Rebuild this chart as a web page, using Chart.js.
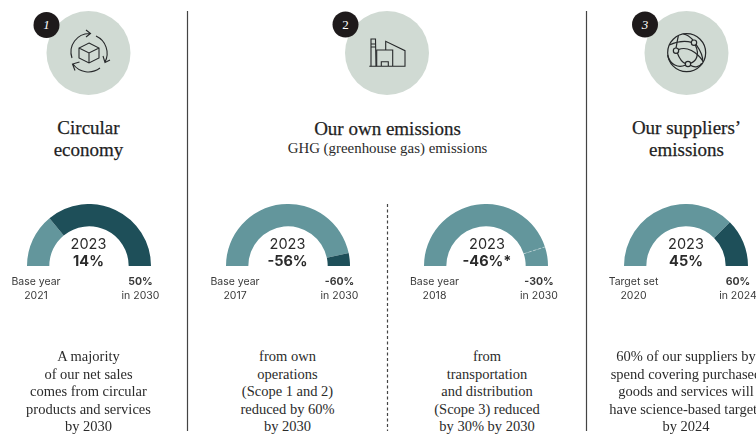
<!DOCTYPE html>
<html>
<head>
<meta charset="utf-8">
<title>Climate targets</title>
<script src="https://cdn.jsdelivr.net/npm/chart.js@4"></script>
<style>
  html, body { margin: 0; padding: 0; background: #fff; }
  body { position: relative; width: 756px; height: 434px; overflow: hidden; }
  canvas { position: absolute; }
  .t { position: absolute; transform: translateX(-50%); text-align: center; white-space: nowrap; color: #2b2b2b; }
  .serif { font-family: "Liberation Serif", serif; }
  .title { font-size: 19px; line-height: 22px; font-weight: 400; color: #1f1f1f; -webkit-text-stroke: 0.25px #1f1f1f; }
  .sub { font-size: 14.9px; line-height: 17px; }
  .body { font-size: 14.5px; line-height: 17.5px; }
  .gauge-label { font-family: Inter, sans-serif; font-size: 10.5px; line-height: 13.5px; color: #3a3a3a; }
  .gauge-label b { font-weight: 700; }
  .gauge-mid { font-family: Inter, sans-serif; font-size: 14.5px; line-height: 17px; color: #2b2b2b; }
  .gauge-mid b { font-weight: 700; }
  svg { position: absolute; left: 0; top: 0; }
</style>
</head>
<body>
<svg width="756" height="434" fill="none" stroke="#26282a" stroke-width="1.1">
  <circle cx="88.5" cy="53" r="42" fill="#d0dad3" stroke="none"/>
  <circle cx="387" cy="53" r="42" fill="#d0dad3" stroke="none"/>
  <circle cx="686.5" cy="53" r="42" fill="#d0dad3" stroke="none"/>
  <circle cx="46.5" cy="25" r="13" fill="#1e1a1b" stroke="none"/>
  <circle cx="345.5" cy="24.5" r="13" fill="#1e1a1b" stroke="none"/>
  <circle cx="645" cy="24.5" r="13" fill="#1e1a1b" stroke="none"/>

  <!-- separators -->
  <line x1="187.5" y1="11" x2="187.5" y2="431" stroke="#444" stroke-width="1.2"/>
  <line x1="586.5" y1="11" x2="586.5" y2="431" stroke="#444" stroke-width="1.2"/>
  <line x1="387.5" y1="204" x2="387.5" y2="431" stroke="#444" stroke-width="1.2" stroke-dasharray="3 2.5"/>

  <!-- cube with circular arrows -->
  <path d="M89 43 L99 48 V58 L89 63 L79 58 V48 Z M79 48 L89 53 L99 48 M89 53 V63"/>
  <path d="M72 58 A18.5 18.5 0 0 1 90 33.5 M86 30 L90.500 33.500 L86 37"/>
  <path d="M96 36 A19 19 0 0 1 105 62 M103 56 L105 62.500 L110 60"/>
  <path d="M100 68 A19 19 0 0 1 73 64 M79.500 62 L72.500 64 L75 70.500"/>

  <!-- factory -->
  <path d="M369.300 66.300 H405 V50.700 L385.700 41.300 V50 M376.700 66.300 V50 H392.700 V66.300 M381.300 66.300 V61.700 H388.300 V66.300"/>
  <path d="M371 66.300 L371 39 H375.500 L376 66.300 M371 44 H375.500 M371 47 H375.500"/>

  <!-- supplier network -->
  <g transform="translate(620 0) scale(0.33333)" stroke-width="3.6">
    <circle cx="200" cy="158" r="57"/>
    <circle cx="222" cy="128" r="8"/>
    <circle cx="168" cy="152" r="8"/>
    <circle cx="204" cy="192" r="8"/>
    <path d="M148 135 C170 125 195 122 215 127"/>
    <path d="M175 108 C172 120 170 135 168 144"/>
    <path d="M228 133 C240 150 250 170 248 185"/>
    <path d="M175 149 C200 138 230 155 250 185"/>
    <path d="M172 159 C178 175 188 188 197 191"/>
    <path d="M211 190 C228 185 240 165 226 135"/>
    <path d="M143 165 C150 195 175 205 197 195"/>
    <path d="M211 196 C225 205 240 200 245 190"/>
    <path d="M219 120 C212 112 205 105 190 102"/>
  </g>
</svg>

<script>
// Gauges: achieved share and what is left of the arc, per target
const years = ['2023', '2023', '2023', '2023'];
const achieved = [14, 56, 46, 45];
const remaining = [36, 4, 5.1, 15];
const centerLabels = ['14%', '-56%', '-46%*', '45%'];
const startLabels = [['Base year', '2021'], ['Base year', '2017'], ['Base year', '2018'], ['Target set', '2020']];
const targetLabels = [['50%', 'in 2030'], ['-60%', 'in 2030'], ['-30%', 'in 2030'], ['60%', 'in 2024']];
const badges = ['1', '2', '3'];

const titles = [['Circular', 'economy'], ['Our own emissions'], ['Our suppliers’', 'emissions']];
const subtitle = 'GHG (greenhouse gas) emissions';
const descriptions = [
  ['A majority', 'of our net sales', 'comes from circular', 'products and services', 'by 2030'],
  ['from own', 'operations', '(Scope 1 and 2)', 'reduced by 60%', 'by 2030'],
  ['from', 'transportation', 'and distribution', '(Scope 3) reduced', 'by 30% by 2030'],
  ['60% of our suppliers by', 'spend covering purchased', 'goods and services will', 'have science-based targets', 'by 2024']
];

const LIGHT = '#63969c';
const DARK = '#1e4f59';
const remainingColors = [DARK, DARK, LIGHT, DARK];
const dashedSplit = [false, false, true, false];

const gaugeCenters = [88.5, 287.5, 486, 686];
const textCenters = [88.5, 287.5, 487, 686];
const badgeCenters = [46.5, 345.5, 645];
const badgeStyles = ['italic', 'normal', 'italic'];
const titleCenters = [88.5, 387.5, 686.5];
const titleTops = [117, 118, 117];
const RADIUS = 62;
const BASELINE = 266;

function addText(cls, html, x, y) {
  const el = document.createElement('div');
  el.className = 't ' + cls;
  el.innerHTML = html;
  el.style.left = x + 'px';
  el.style.top = y + 'px';
  document.body.appendChild(el);
  return el;
}

// faint dashed tick on the boundary between the two segments
const splitLine = {
  id: 'splitLine',
  afterDatasetsDraw(chart, args, opts) {
    if (!opts.show) return;
    const arc = chart.getDatasetMeta(0).data[0];
    const c = chart.ctx;
    const a = arc.endAngle;
    c.save();
    c.strokeStyle = 'rgba(255,255,255,0.4)';
    c.lineWidth = 1;
    c.setLineDash([3, 2]);
    c.beginPath();
    c.moveTo(arc.x + Math.cos(a) * arc.innerRadius, arc.y + Math.sin(a) * arc.innerRadius);
    c.lineTo(arc.x + Math.cos(a) * arc.outerRadius, arc.y + Math.sin(a) * arc.outerRadius);
    c.stroke();
    c.restore();
  }
};

gaugeCenters.forEach((cx, i) => {
  const canvas = document.createElement('canvas');
  canvas.width = RADIUS * 2;
  canvas.height = RADIUS;
  canvas.style.left = Math.round(cx - RADIUS) + 'px';
  canvas.style.top = (BASELINE - RADIUS) + 'px';
  document.body.appendChild(canvas);

  new Chart(canvas.getContext('2d'), {
    type: 'doughnut',
    data: {
      labels: ['Achieved', 'Remaining'],
      datasets: [{
        data: [achieved[i], remaining[i]],
        backgroundColor: [LIGHT, remainingColors[i]],
        borderWidth: 0
      }]
    },
    options: {
      responsive: false,
      animation: false,
      rotation: -90,
      circumference: 180,
      cutout: '64%',
      layout: { padding: 0 },
      plugins: {
        legend: { display: false },
        tooltip: { enabled: false },
        splitLine: { show: dashedSplit[i] }
      }
    },
    plugins: [splitLine]
  });

  const tx = textCenters[i];
  addText('gauge-mid', years[i] + '<br><b>' + centerLabels[i] + '</b>', tx, 235);
  addText('gauge-label', startLabels[i].join('<br>'), tx - 52.5, 275);
  addText('gauge-label', '<b>' + targetLabels[i][0] + '</b><br>' + targetLabels[i][1], tx + 52, 275);
  addText('serif body', descriptions[i].join('<br>'), tx, 348);
});

titles.forEach((lines, i) => {
  addText('serif title', lines.join('<br>'), titleCenters[i], titleTops[i]);
});
addText('serif sub', subtitle, 387.5, 140);

badges.forEach((b, i) => {
  const el = addText('serif', b, badgeCenters[i], 17);
  el.style.color = '#fff';
  el.style.fontStyle = badgeStyles[i];
  el.style.fontSize = '13px';
});
</script>
</body>
</html>
